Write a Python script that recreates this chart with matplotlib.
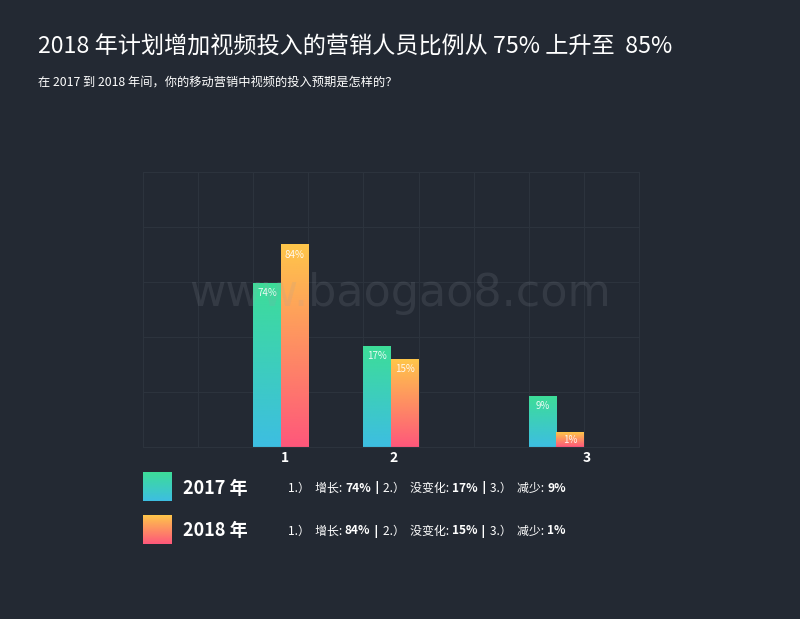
import matplotlib.pyplot as plt
import numpy as np
from matplotlib.colors import LinearSegmentedColormap

plt.rcParams['font.family'] = ['Noto Sans CJK SC', 'DejaVu Sans']

# data
groups = ['1', '2', '3']
group_pos = [2.5, 4.5, 7.5]
tick_pos = [2.57, 4.55, 8.05]
labels_2017 = [74, 17, 9]
labels_2018 = [84, 15, 1]
# bar heights as drawn on the chart's 0-100 grid (not proportional to the labels)
height_2017 = [59.6, 36.7, 18.5]
height_2018 = [73.5, 32.0, 5.1]
legend_names = ['2017 年', '2018 年']
legend_parts = [
    [('1.）  增长: ', 'normal'), ('74%', 'bold'), (' | ', 'bold'), ('2.）  没变化: ', 'normal'),
     ('17%', 'bold'), (' | ', 'bold'), ('3.）  减少: ', 'normal'), ('9%', 'bold')],
    [('1.）  增长: ', 'normal'), ('84%', 'bold'), (' | ', 'bold'), ('2.）  没变化: ', 'normal'),
     ('15%', 'bold'), (' | ', 'bold'), ('3.）  减少: ', 'normal'), ('1%', 'bold')],
]

bg = '#232933'
grid_c = '#2c333d'
cmap_2017 = LinearSegmentedColormap.from_list('c17', ['#3dbee2', '#3ddd98'])
cmap_2018 = LinearSegmentedColormap.from_list('c18', ['#fe577b', '#fec64a'])
grad = np.linspace(0, 1, 256).reshape(-1, 1)

fig = plt.figure(figsize=(8, 6.19), dpi=100, facecolor=bg)
ax = fig.add_axes([143 / 800, 172 / 619, 496 / 800, 275 / 619])
ax.set_facecolor(bg)

w = 0.5
bars17 = ax.bar(np.array(group_pos) - w / 2, height_2017, w, color='none')
bars18 = ax.bar(np.array(group_pos) + w / 2, height_2018, w, color='none')
for bars, cmap, labs in [(bars17, cmap_2017, labels_2017), (bars18, cmap_2018, labels_2018)]:
    for b, lab in zip(bars, labs):
        x0, h = b.get_x(), b.get_height()
        ax.imshow(grad, cmap=cmap, origin='lower', aspect='auto', zorder=2,
                  extent=[x0, x0 + b.get_width(), 0, h])
        # label near the top of the bar, kept inside short bars
        off = min(7.0, h / 100 * 275 / 2 * 0.72)
        ax.annotate(f'{lab}%', (x0 + b.get_width() / 2, h), xytext=(0, -off),
                    textcoords='offset points', ha='center', va='center', fontsize=7,
                    color='white', alpha=0.9, zorder=3)
ax.set_xlim(0, 9)
ax.set_ylim(0, 100)

ax.set_xticks(tick_pos)
ax.set_xticklabels(groups, fontsize=10, fontweight='bold', color='white')
ax.set_xticks(np.arange(0, 10), minor=True)
ax.set_yticks(np.arange(0, 101, 20))
ax.set_yticklabels([])
ax.tick_params(length=0, which='both', pad=3)
ax.grid(True, which='minor', axis='x', color=grid_c, lw=0.8)
ax.grid(True, which='major', axis='y', color=grid_c, lw=0.8)
ax.set_axisbelow(True)
for s in ax.spines.values():
    s.set_color(grid_c)
    s.set_linewidth(0.8)

# watermark
fig.text(0.5, 1 - 293 / 619, 'www.baogao8.com', fontsize=32, color='#9aa0aa', alpha=0.15,
         ha='center', va='center', family='DejaVu Sans', zorder=10)

fig.text(38 / 800, 1 - 47 / 619, '2018 年计划增加视频投入的营销人员比例从 75% 上升至  85%',
         fontsize=16.7, color='white', va='center')
fig.text(38 / 800, 1 - 83 / 619, '在 2017 到 2018 年间，你的移动营销中视频的投入预期是怎样的？',
         fontsize=8.8, color='white', va='center')

# legend: gradient squares, year labels and the mixed-weight detail line
for i, (name, parts, cmap) in enumerate(zip(legend_names, legend_parts, [cmap_2017, cmap_2018])):
    top = 472 + i * 43
    lax = fig.add_axes([143 / 800, 1 - (top + 29) / 619, 29 / 800, 29 / 619])
    lax.imshow(grad, cmap=cmap, origin='lower', aspect='auto')
    lax.axis('off')
    yc = 1 - (top + 16) / 619
    fig.text(183 / 800, yc, name, fontsize=13, fontweight='bold', color='white', va='center')
    prev = fig.text(288 / 800, yc, parts[0][0], fontsize=8.6, color='white', va='center',
                    fontweight=parts[0][1])
    for s, wt in parts[1:]:
        fam = ['DejaVu Sans'] if s.strip() == '|' else None
        prev = ax.annotate(s, xy=(1, 0), xycoords=prev, va='bottom', ha='left',
                           fontsize=8.6, color='white', fontweight=wt,
                           annotation_clip=False, family=fam)

fig.savefig('out.png', dpi=100, facecolor=bg)
